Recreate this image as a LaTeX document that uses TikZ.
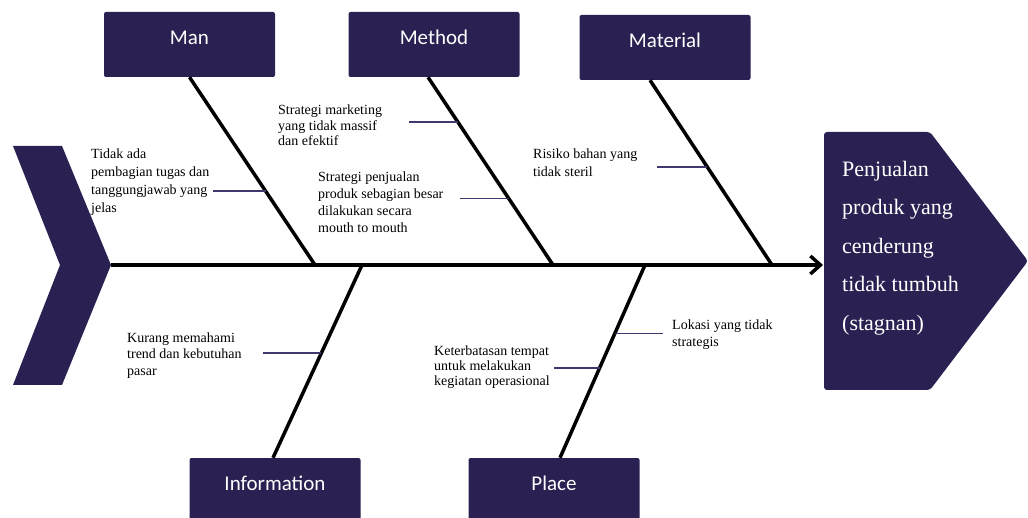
\documentclass[tikz,border=0pt]{standalone}
\usepackage{fontspec}
\setmainfont{Liberation Serif}
\newfontfamily\boxfont{Carlito}
\usetikzlibrary{arrows.meta,calc}
\definecolor{navy}{RGB}{42,33,82}
\definecolor{twigblue}{RGB}{62,58,110}

\begin{document}
\begin{tikzpicture}[x=1pt, y=-1pt, >={Straight Barb[length=10pt, width=18pt]},
    category/.style={rectangle, fill=navy, rounded corners=2pt, minimum width=171pt, minimum height=65pt,
        inner sep=0pt, text=white, font=\boxfont\fontsize{21}{25}\selectfont, text height=20pt, text depth=20pt},
    cause/.style={align=left, anchor=north west, inner sep=0pt, font=\fontsize{14}{#1}\selectfont},
    cause/.default=16.5,
    effecttext/.style={align=left, anchor=west, inner sep=0pt, text=white, font=\fontsize{22}{38.5}\selectfont},
    bone/.style={line width=3.5pt},
    twig/.style={draw=twigblue, line width=1.2pt}]
    \useasboundingbox (0,0) rectangle (1028,518);

    % Tail and head
    \fill [navy] (13,146) -- (62,146) -- (111,265) coordinate (tail) -- (62,385) -- (13,385) -- (60,265) -- cycle;
    \fill [navy, rounded corners=3pt] (824,132) -- (930,132) -- (1028,261) -- (930,390) -- (824,390) -- cycle;
    \coordinate (headin) at (823,265);
    \node [effecttext] (effect) at (842,248) {Penjualan\\produk yang\\cenderung\\tidak tumbuh\\(stagnan)};

    % Categories {man, method, material, information, place}
    \node [category] (man)          at (189.5,44.5) {Man};
    \node [category] (method)       at (434,44.5)   {Method};
    \node [category] (material)     at (665,47.5)   {Material};
    \node [category] (information)  at (275,490.5)  {Information};
    \node [category] (place)        at (554,490.5)  {Place};

    % Points on the spine
    \coordinate (s1) at (315,265);
    \coordinate (s2) at (553,265);
    \coordinate (s3) at (772,265);
    \coordinate (s4) at (362,265);
    \coordinate (s5) at (645,265);

    % Spine and bones
    \draw [bone, ->] (tail) -- (headin);
    \draw [bone] (man.south) -- (s1);
    \draw [bone] ([xshift=-6pt]method.south) -- (s2);
    \draw [bone] ([xshift=-15pt]material.south) -- (s3);
    \draw [bone] (s4) -- ([xshift=-2pt]information.north);
    \draw [bone] (s5) -- ([xshift=6pt]place.north);

    % Causes
    \node [cause=18]   (tugas)        at (91,148.5)  {Tidak ada\\pembagian tugas dan\\tanggungjawab yang\\jelas};
    \node [cause=15.3] (marketing)    at (278,105)   {Strategi marketing\\yang tidak massif\\dan efektif};
    \node [cause=17]   (penjualan)    at (318,171.5) {Strategi penjualan\\produk sebagian besar\\dilakukan secara\\mouth to mouth};
    \node [cause=18]   (risiko)       at (533,148.5) {Risiko bahan yang\\tidak steril};
    \node [cause]      (kurang)       at (127,332.5) {Kurang memahami\\trend dan kebutuhan\\pasar};
    \node [cause=15]   (keterbatasan) at (434,345.5) {Keterbatasan tempat\\untuk melakukan\\kegiatan operasional};
    \node [cause=17]   (lokasi)       at (672,319.5) {Lokasi yang tidak\\strategis};

    % Twigs
    \coordinate (b1) at ($(man.south)!.606!(s1)$);
    \coordinate (b2) at ($([xshift=-6pt]method.south)!.239!(s2)$);
    \coordinate (b3) at ($([xshift=-6pt]method.south)!.644!(s2)$);
    \coordinate (b4) at ($([xshift=-15pt]material.south)!.47!(s3)$);
    \coordinate (b5) at ($(s4)!.456!([xshift=-2pt]information.north)$);
    \coordinate (b6) at ($(s5)!.357!([xshift=6pt]place.north)$);
    \coordinate (b7) at ($(s5)!.534!([xshift=6pt]place.north)$);
    \draw [twig] (b1) -- ++(-53,0) coordinate (b1end);
    \draw [twig] (b2) -- ++(-49,0) coordinate (b2end);
    \draw [twig] (b3) -- ++(-49,0) coordinate (b3end);
    \draw [twig] (b4) -- ++(-50,0) coordinate (b4end);
    \draw [twig] (b5) -- ++(-58,0) coordinate (b5end);
    \draw [twig] (b6) -- ++(48,0)  coordinate (b6end);
    \draw [twig] (b7) -- ++(-46,0) coordinate (b7end);

\end{tikzpicture}
\end{document}
